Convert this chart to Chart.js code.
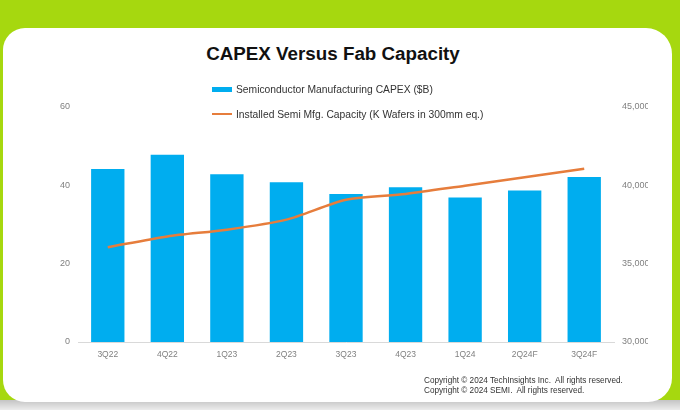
<!DOCTYPE html>
<html lang="en">
<head>
<meta charset="utf-8">
<title>CAPEX Versus Fab Capacity</title>
<script src="https://cdn.jsdelivr.net/npm/chart.js@4.4.1/dist/chart.umd.min.js"></script>
<style>
  html, body { margin: 0; padding: 0; }
  body {
    width: 680px; height: 410px; position: relative; overflow: hidden;
    background: #a6d80f;
    font-family: "Liberation Sans", Arial, sans-serif;
  }
  .shade { position: absolute; left: 0; top: 400px; width: 680px; height: 10px;
    background: linear-gradient(#c4c4c4, #ececec); }
  .card { position: absolute; left: 3px; top: 28px; width: 669px; height: 374px;
    background: #fff; border-radius: 22px 26px 24px 22px; }
  .title { position: absolute; left: 0; width: 666px; top: 43px; text-align: center;
    font-weight: bold; font-size: 18.8px; color: #111; }
  .legend { position: absolute; left: 212px; top: 82px; font-size: 10.3px; color: #333; }
  .legend .item { display: flex; align-items: center; height: 14px; margin-bottom: 11px; white-space: nowrap; }
  .legend .mark { width: 20px; margin-right: 4px; }
  .clip { position: absolute; left: 0; top: 0; width: 648px; height: 410px; overflow: hidden; }
  .copy { position: absolute; left: 424px; top: 376px; font-size: 8.2px; line-height: 10px; color: #333; }
</style>
</head>
<body>
  <div class="shade"></div>
  <div class="card"></div>
  <div class="title">CAPEX Versus Fab Capacity</div>
  <div class="clip">
    <canvas id="chart-0" width="680" height="410"></canvas>
  </div>
  <div id="legend" class="legend"></div>
  <div class="copy">Copyright © 2024 TechInsights Inc.&nbsp; All rights reserved.<br>Copyright © 2024 SEMI.&nbsp; All rights reserved.</div>

  <script>
    let quarters = ['3Q22', '4Q22', '1Q23', '2Q23', '3Q23', '4Q23', '1Q24', '2Q24F', '3Q24F'];
    let capex = [44.2, 47.8, 42.8, 40.8, 37.8, 39.5, 36.9, 38.7, 42.1];
    let capacity = [36050, 36740, 37170, 37810, 39080, 39450, 39980, 40510, 41060];
    let capexRange = [0, 60, 20];
    let capacityRange = [30000, 45000, 5000];

    let tickFont = {family: '"Liberation Sans", Arial, sans-serif', size: 8.5};
    let axisFont = {family: '"Liberation Sans", Arial, sans-serif', size: 9};
    let tickColor = '#808080';

    let data = {
      labels: quarters,
      datasets: [
        {
          type: 'bar',
          label: 'Semiconductor Manufacturing CAPEX ($B)',
          data: capex,
          backgroundColor: '#00adef',
          yAxisID: 'y',
          order: 1,
          categoryPercentage: 1,
          barPercentage: 0.56
        },
        {
          type: 'line',
          label: 'Installed Semi Mfg. Capacity (K Wafers in 300mm eq.)',
          data: capacity,
          borderColor: '#e67d3c',
          borderWidth: 2.5,
          pointRadius: 0,
          tension: 0.25,
          yAxisID: 'y1',
          order: 0
        }
      ]
    };

    let chart = new Chart('chart-0', {
      data: data,
      options: {
        responsive: false,
        animation: false,
        layout: {padding: {left: 0, right: 0, top: 107, bottom: 38}},
        plugins: {legend: {display: false}, tooltip: {enabled: false}},
        scales: {
          x: {
            grid: {display: false, drawTicks: false},
            border: {display: true, color: '#d9d9d9', width: 1},
            ticks: {font: tickFont, color: tickColor, padding: 8, maxRotation: 0},
            afterFit: function(s) { s.height = 30; }
          },
          y: {
            position: 'left',
            min: capexRange[0], max: capexRange[1],
            grid: {display: false, drawTicks: false},
            border: {display: false},
            ticks: {stepSize: capexRange[2], font: axisFont, color: tickColor, padding: 8},
            afterFit: function(s) { s.width = 78; }
          },
          y1: {
            position: 'right',
            min: capacityRange[0], max: capacityRange[1],
            grid: {display: false, drawTicks: false},
            border: {display: false},
            ticks: {
              stepSize: capacityRange[2], font: axisFont, color: tickColor, padding: 8,
              callback: function(v) { return v.toLocaleString('en-US'); }
            },
            afterFit: function(s) { s.width = 66; }
          }
        }
      }
    });

    // legend stacked vertically like the original
    let legendEl = document.getElementById('legend');
    chart.data.datasets.forEach(function(ds) {
      let item = document.createElement('div');
      item.className = 'item';
      let mark = document.createElement('span');
      mark.className = 'mark';
      if (ds.type === 'bar') {
        mark.style.height = '5px';
        mark.style.background = ds.backgroundColor;
      } else {
        mark.style.height = '2px';
        mark.style.background = ds.borderColor;
      }
      item.appendChild(mark);
      item.appendChild(document.createTextNode(ds.label));
      legendEl.appendChild(item);
    });
  </script>
</body>
</html>
